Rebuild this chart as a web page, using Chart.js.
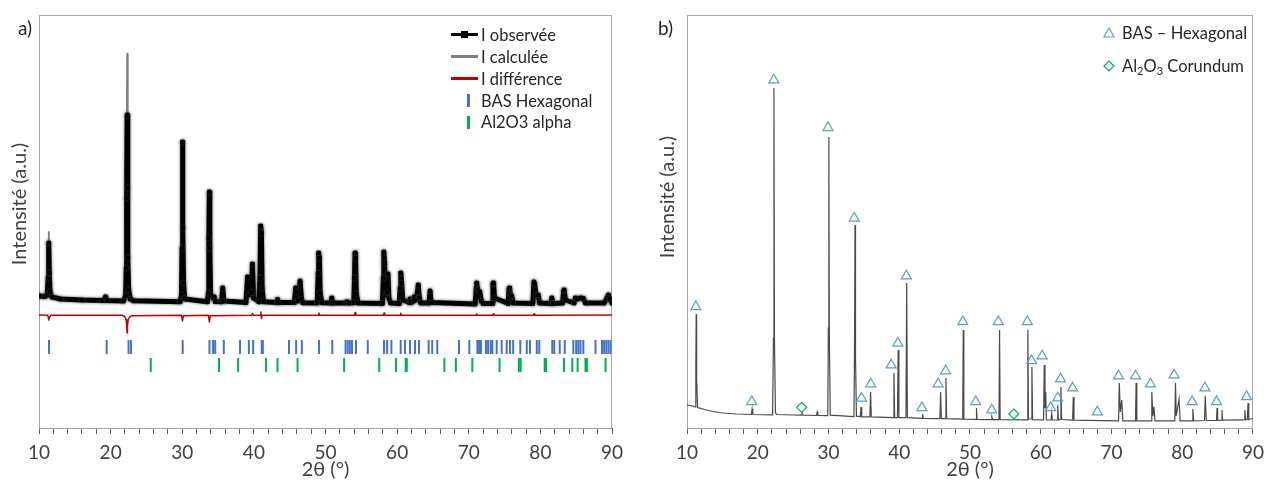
<!DOCTYPE html>
<html>
<head>
<meta charset="utf-8">
<script src="https://cdn.jsdelivr.net/npm/chart.js@4.4.1/dist/chart.umd.min.js"></script>
<style>
  body { margin: 0; background: #fff; font-family: Lato, sans-serif; color: #262626; }
  #wrap { position: relative; width: 1271px; height: 480px; overflow: hidden; }
  canvas { position: absolute; top: 0; }
  .panel { position: absolute; font-size: 19px; line-height: 20px; }
  .leg { position: absolute; font-size: 16.5px; line-height: 20px; white-space: nowrap; }
  .ico { position: absolute; }
  .ytitle { position: absolute; width: 200px; text-align: center; font-size: 20px; line-height: 24px;
            color: #404040; transform: rotate(-90deg); white-space: nowrap; }
  sub { font-size: 11px; vertical-align: -3px; line-height: 0; }
</style>
</head>
<body>
<div id="wrap">
  <canvas id="chartA" width="640" height="480" style="left:0"></canvas>
  <canvas id="chartB" width="631" height="480" style="left:640px"></canvas>

  <div class="panel" style="left:18px;top:18px">a)</div>
  <div class="panel" style="left:658px;top:18px">b)</div>
  <div class="ytitle" style="left:-82px;top:192px">Intensité (a.u.)</div>
  <div class="ytitle" style="left:566px;top:185px">Intensité (a.u.)</div>

  <!-- legend a -->
  <div class="ico" style="left:451px;top:33px;width:27px;height:3px;background:#000"></div>
  <div class="ico" style="left:461px;top:31px;width:7px;height:7px;background:#000"></div>
  <div class="leg" style="left:481px;top:25px">I observée</div>
  <div class="ico" style="left:451px;top:55px;width:27px;height:3px;background:#7f7f7f"></div>
  <div class="leg" style="left:481px;top:47px">I calculée</div>
  <div class="ico" style="left:451px;top:77px;width:27px;height:3px;background:#c00000"></div>
  <div class="leg" style="left:481px;top:69px">I différence</div>
  <div class="ico" style="left:467px;top:94px;width:3px;height:13px;background:#4472c4"></div>
  <div class="leg" style="left:481px;top:91px">BAS Hexagonal</div>
  <div class="ico" style="left:467px;top:116px;width:3px;height:13px;background:#00b050"></div>
  <div class="leg" style="left:481px;top:112px">Al2O3 alpha</div>

  <!-- legend b -->
  <svg class="ico" style="left:1103px;top:27px" width="12" height="11"><polygon points="6,1 11,10 1,10" fill="none" stroke="#5b9bd5" stroke-width="1.2"/></svg>
  <div class="leg" style="left:1122px;top:23px">BAS – Hexagonal</div>
  <svg class="ico" style="left:1103px;top:60px" width="12" height="12"><polygon points="6,1 11,6 6,11 1,6" fill="none" stroke="#00b050" stroke-width="1.2"/></svg>
  <div class="leg" style="left:1122px;top:56px">Al<sub>2</sub>O<sub>3</sub> Corundum</div>
</div>

<script>
// ---------- panel a : Rietveld refinement ----------
const obsAngle = [
  10, 10.8, 11.15, 11.28, 11.36, 11.44, 11.55, 11.8, 13, 16,
  19, 19.3, 19.5, 21.8, 22.1, 22.18, 22.24, 22.3, 22.36, 22.42, 22.52, 22.75, 23.2,
  29.7, 29.9, 29.97, 30.03, 30.1, 30.18, 30.35,
  33.5, 33.65, 33.72, 33.78, 33.85, 33.95, 34.3, 34.45, 34.6, 35.5, 35.65, 35.8,
  38.9, 39.12, 39.3, 39.65, 39.8, 39.95, 40.7, 40.85, 40.95, 41.05, 41.15, 41.35,
  43.2, 43.3, 43.4, 45.65, 45.85, 45.95, 46.2, 46.45, 46.65, 46.85,
  48.85, 48.98, 49.05, 49.15, 49.25, 49.5, 50.75, 50.88, 51.0, 52.8, 53.0, 53.3,
  53.95, 54.05, 54.12, 54.2, 54.3, 54.55,
  57.95, 58.08, 58.15, 58.25, 58.4, 58.6, 58.72, 58.85, 59.1,
  60.3, 60.42, 60.52, 60.62, 60.8, 61.7, 61.8, 61.95, 62.3, 62.4, 62.55, 62.85, 62.95, 63.1, 63.3,
  64.45, 64.6, 64.75,
  70.9, 71.05, 71.12, 71.25, 71.55, 71.75, 72.0, 73.25, 73.38, 73.45, 73.6,
  75.5, 75.62, 75.7, 75.85, 76.0, 76.2, 78.95, 79.1, 79.2, 79.4, 79.7, 79.9,
  81.45, 81.6, 81.75, 83.1, 83.25, 83.32, 83.5, 84.7, 84.9, 85.2, 85.6, 86.0, 86.3,
  88.9, 89.3, 89.5, 89.7, 90
];
const obsInt = [
  1320, 1315, 1330, 1500, 1850, 1550, 1360, 1310, 1290, 1280,
  1275, 1310, 1275, 1270, 1320, 1600, 2300, 3130, 2400, 1700, 1380, 1290, 1272,
  1262, 1330, 1800, 2860, 2000, 1450, 1290,
  1262, 1350, 1900, 2360, 1800, 1330, 1300, 1310, 1265, 1262, 1400, 1270,
  1255, 1510, 1330, 1350, 1640, 1300, 1262, 1500, 2020, 1950, 1400, 1262,
  1255, 1285, 1255, 1255, 1400, 1360, 1270, 1470, 1290, 1252,
  1250, 1550, 1750, 1700, 1350, 1252, 1250, 1300, 1250, 1250, 1262, 1250,
  1252, 1500, 1750, 1700, 1340, 1250,
  1245, 1500, 1760, 1650, 1330, 1350, 1540, 1300, 1250,
  1245, 1400, 1550, 1450, 1280, 1255, 1290, 1255, 1270, 1310, 1280, 1360, 1430, 1300, 1250,
  1250, 1370, 1255,
  1240, 1400, 1450, 1380, 1360, 1270, 1245, 1245, 1440, 1450, 1300,
  1245, 1390, 1400, 1320, 1320, 1250, 1245, 1460, 1440, 1330, 1330, 1250,
  1245, 1300, 1245, 1250, 1370, 1380, 1280, 1250, 1300, 1290, 1300, 1295, 1250,
  1250, 1300, 1330, 1290, 1250
];
const calcInt = [
  1320, 1315, 1330, 1500, 1960, 1550, 1360, 1310, 1290, 1280,
  1275, 1310, 1275, 1270, 1320, 1600, 2300, 3740, 2400, 1700, 1380, 1290, 1272,
  1262, 1330, 1800, 2860, 2000, 1450, 1290,
  1262, 1350, 1900, 2360, 1800, 1330, 1300, 1310, 1265, 1262, 1400, 1270,
  1255, 1510, 1330, 1350, 1640, 1300, 1262, 1500, 2020, 1950, 1400, 1262,
  1255, 1285, 1255, 1255, 1400, 1360, 1270, 1470, 1290, 1252,
  1250, 1550, 1750, 1700, 1350, 1252, 1250, 1300, 1250, 1250, 1262, 1250,
  1252, 1500, 1750, 1700, 1340, 1250,
  1245, 1500, 1760, 1650, 1330, 1350, 1540, 1300, 1250,
  1245, 1400, 1550, 1450, 1280, 1255, 1290, 1255, 1270, 1310, 1280, 1360, 1430, 1300, 1250,
  1250, 1370, 1255,
  1240, 1400, 1450, 1380, 1360, 1270, 1245, 1245, 1440, 1450, 1300,
  1245, 1390, 1400, 1320, 1320, 1250, 1245, 1460, 1440, 1330, 1330, 1250,
  1245, 1300, 1245, 1250, 1370, 1380, 1280, 1250, 1300, 1290, 1300, 1295, 1250,
  1250, 1300, 1330, 1290, 1250
];
const diffAngle = [
  10, 11.2, 11.3, 11.36, 11.45, 11.7,
  21.6, 21.95, 22.15, 22.25, 22.3, 22.35, 22.45, 22.65, 23.0,
  29.9, 30.03, 30.15, 33.65, 33.78, 33.9, 39.7, 39.8, 39.9,
  40.9, 40.98, 41.05, 41.15, 49.0, 49.08, 49.18, 54.05, 54.13, 54.22,
  58.1, 58.17, 58.27, 60.43, 60.5, 60.6, 71.05, 71.12, 71.2,
  73.35, 73.43, 73.52, 79.05, 79.12, 79.22, 90
];
const diffInt = [
  1130, 1128, 1105, 1080, 1110, 1127,
  1127, 1115, 1085, 1030, 950, 1020, 1080, 1110, 1123,
  1127, 1070, 1122, 1127, 1060, 1122, 1127, 1145, 1127,
  1127, 1160, 1095, 1127, 1127, 1150, 1127, 1127, 1155, 1127,
  1127, 1150, 1127, 1127, 1148, 1127, 1127, 1142, 1127,
  1127, 1142, 1127, 1127, 1142, 1127, 1130
];
const basHexTicks = [
  11.4, 19.45, 22.5, 22.85, 30.06, 33.8, 34.3, 34.6, 35.8, 38.07, 39.3, 39.9, 41.1, 41.25,
  44.9, 45.9, 46.7, 49.1, 50.95, 52.8, 53.1, 53.4, 53.7, 54.26, 55.9, 58.17, 58.6, 59.2,
  60.5, 61.1, 61.8, 62.5, 63.05, 64.4, 64.9, 65.6, 68.64, 70.08, 71.2, 71.45, 71.7,
  72.4, 72.7, 73.07, 73.3, 73.9, 74.6, 75.3, 75.76, 76.2, 77.2, 78.1, 78.55, 79.5, 79.85,
  81.66, 81.94, 82.7, 83.4, 84.6, 85.0, 85.3, 85.6, 86.0, 87.7, 88.6, 88.9, 89.2, 89.5, 89.8
];
const alphaTicks = [
  25.6, 35.13, 37.8, 41.7, 43.3, 46.1, 52.6, 57.5, 59.85, 61.2, 61.35, 66.6, 68.2,
  70.5, 74.3, 77.0, 77.25, 80.6, 80.8, 83.3, 84.46, 85.2, 86.3, 86.5, 89.1
];

// ---------- panel b : raw pattern ----------
const xrdAngle = [
  10, 10.8, 11.15, 11.25, 11.3, 11.36, 11.5, 13, 15, 17,
  19.1, 19.2, 19.3, 22.1, 22.22, 22.29, 22.36, 22.5, 22.7, 25, 26.2, 26.3, 26.4, 28.3, 28.4, 28.5,
  29.9, 29.98, 30.05, 30.12, 30.25, 33.6, 33.68, 33.75, 33.82, 33.95, 34.5, 34.6, 34.7, 35.85, 35.95, 36.05,
  39.15, 39.25, 39.35, 39.75, 39.85, 39.95, 40.95, 41.05, 41.15, 43.25, 43.3, 43.38,
  45.75, 45.85, 45.95, 46.5, 46.6, 46.7, 48.97, 49.05, 49.13, 50.85, 50.92, 51.0, 53.0, 53.1, 53.2,
  54.1, 54.18, 54.26, 58.1, 58.18, 58.27, 58.65, 58.75, 58.85, 60.4, 60.5, 60.6, 60.7, 60.8,
  61.45, 61.55, 61.65, 62.3, 62.4, 62.5, 62.75, 62.85, 62.95, 64.5, 64.6, 64.7,
  71.0, 71.1, 71.25, 71.45, 71.6, 73.4, 73.48, 73.58, 75.6, 75.7, 75.85, 76.0, 76.15,
  78.95, 79.05, 79.15, 79.55, 79.7, 81.4, 81.5, 81.6, 83.15, 83.25, 83.4,
  84.85, 84.92, 85.0, 85.55, 85.62, 85.7, 88.75, 88.85, 88.95, 89.2, 89.3, 89.4, 90
];
const xrdInt = [
  230, 220, 212, 600, 1140, 500, 205, 175, 150, 140,
  135, 190, 135, 132, 900, 3400, 900, 150, 135, 130, 128, 145, 128, 125, 160, 125,
  124, 1000, 2910, 900, 128, 114, 800, 2030, 700, 118, 114, 210, 112, 112, 360, 112,
  104, 550, 104, 104, 780, 104, 104, 1450, 104, 96, 140, 96,
  94, 360, 94, 94, 500, 94, 88, 980, 88, 86, 200, 86, 84, 110, 84,
  84, 980, 84, 82, 980, 90, 90, 610, 84, 82, 630, 200, 360, 82,
  80, 150, 80, 80, 230, 80, 85, 410, 85, 78, 310, 78,
  72, 450, 160, 280, 72, 72, 450, 72, 72, 360, 120, 213, 72,
  72, 450, 120, 290, 72, 72, 190, 72, 75, 320, 75,
  76, 200, 76, 78, 180, 78, 82, 180, 82, 85, 250, 85, 95
];
const basPeakAngle = [11.25, 19.15, 22.27, 29.93, 33.65, 34.67, 35.97, 38.85, 39.8, 41.0,
  43.2, 45.5, 46.56, 48.98, 50.8, 53.07, 54.0, 58.1, 58.7, 60.2,
  61.4, 62.4, 62.8, 64.5, 68.0, 71.0, 73.4, 75.5, 78.85, 81.4, 83.2, 84.85, 89.1];
const basPeakInt = [1213, 263, 3480, 3003, 2097, 297, 440, 630, 847, 1520,
  203, 440, 570, 1063, 263, 180, 1063, 1063, 673, 720,
  203, 300, 490, 400, 160, 520, 520, 440, 530, 263, 400, 263, 313];
const corPeakAngle = [26.2, 56.2];
const corPeakInt = [207, 140];

const xTickLabels = [10, 20, 30, 40, 50, 60, 70, 80, 90];

// ---------- shared bits ----------
const TEXT = '#404040';
const AXIS = '#595959';
Chart.defaults.font.family = 'Lato';
Chart.defaults.color = TEXT;

const BAS_ROW = 810;
const ALPHA_ROW = 630;

const xy = (xs, ys) => xs.map((x, i) => ({ x: x, y: ys[i] }));
const row = (xs, y) => xs.map(x => ({ x: x, y: y }));

const frame = {
  id: 'frame',
  beforeDatasetsDraw(chart) {
    const { ctx, chartArea: a } = chart;
    ctx.save();
    ctx.strokeStyle = '#a6a6a6';
    ctx.lineWidth = 1;
    ctx.strokeRect(a.left + 0.5, a.top + 0.5, a.right - a.left - 1, a.bottom - a.top);
    ctx.restore();
  }
};

// grey rim round the observed curve, as in the original export
const halo = {
  id: 'halo',
  beforeDatasetDraw(chart, args) {
    if (args.index !== 0) return;
    const ctx = chart.ctx;
    ctx.save();
    ctx.shadowColor = 'rgba(80,80,80,0.9)';
    ctx.shadowBlur = 3;
  },
  afterDatasetDraw(chart, args) {
    if (args.index === 0) chart.ctx.restore();
  }
};

function scales(yWidth) {
  return {
    x: {
      type: 'linear', min: 10, max: 90,
      afterFit: s => { s.height = 52; },
      border: { display: true, color: AXIS, width: 1 },
      grid: { display: true, drawOnChartArea: false, drawTicks: true, tickLength: 6, color: AXIS },
      ticks: {
        stepSize: 2, autoSkip: false, maxRotation: 0, padding: 7,
        font: { size: 19 }, color: TEXT,
        callback: v => xTickLabels.includes(v) ? String(v) : ''
      },
      title: { display: true, text: '2θ (°)', font: { size: 20 }, color: TEXT,
        padding: { top: 0, bottom: -2 } }
    },
    y: {
      type: 'linear', min: 0, max: 4130,
      afterFit: s => { s.width = yWidth; },
      ticks: { display: false },
      grid: { display: false },
      border: { display: false }
    }
  };
}

const common = {
  responsive: false,
  animation: false,
  plugins: { legend: { display: false }, tooltip: { enabled: false } }
};

new Chart(document.getElementById('chartA'), {
  type: 'scatter',
  data: {
    datasets: [
      {
        label: 'I observée',
        data: xy(obsAngle, obsInt),
        showLine: true,
        borderColor: '#000',
        borderWidth: 5,
        borderJoinStyle: 'round',
        borderCapStyle: 'round',
        pointStyle: 'rect',
        pointRadius: 3,
        pointBackgroundColor: '#000',
        pointBorderColor: '#000',
        pointBorderWidth: 0
      },
      {
        label: 'I calculée',
        data: xy(obsAngle, calcInt),
        showLine: true,
        borderColor: '#7f7f7f',
        borderWidth: 1.8,
        borderJoinStyle: 'round',
        pointRadius: 0
      },
      {
        label: 'I différence',
        data: xy(diffAngle, diffInt),
        showLine: true,
        borderColor: '#c00000',
        borderWidth: 1.5,
        borderJoinStyle: 'round',
        pointRadius: 0
      },
      {
        label: 'BAS Hexagonal',
        data: row(basHexTicks, BAS_ROW),
        pointStyle: 'line',
        rotation: 90,
        pointRadius: 7,
        pointBorderWidth: 2,
        pointBorderColor: '#4472c4'
      },
      {
        label: 'Al2O3 alpha',
        data: row(alphaTicks, ALPHA_ROW),
        pointStyle: 'line',
        rotation: 90,
        pointRadius: 7,
        pointBorderWidth: 2,
        pointBorderColor: '#00b050'
      }
    ]
  },
  options: Object.assign({}, common, {
    layout: { padding: { top: 15, right: 28, bottom: 0, left: 0 } },
    scales: scales(39)
  }),
  plugins: [frame, halo]
});

new Chart(document.getElementById('chartB'), {
  type: 'scatter',
  data: {
    datasets: [
      {
        label: 'BAS – Hexagonal',
        data: xy(basPeakAngle, basPeakInt),
        pointStyle: 'triangle',
        pointRadius: 5.8,
        pointBorderWidth: 1.2,
        pointBorderColor: '#5b9bd5',
        pointBackgroundColor: 'rgba(0,0,0,0)'
      },
      {
        label: 'Al2O3 Corundum',
        data: xy(corPeakAngle, corPeakInt),
        pointStyle: 'rectRot',
        pointRadius: 5,
        pointBorderWidth: 1.2,
        pointBorderColor: '#00b050',
        pointBackgroundColor: 'rgba(0,0,0,0)'
      },
      {
        label: 'pattern',
        data: xy(xrdAngle, xrdInt),
        showLine: true,
        borderColor: '#4a4a4a',
        borderWidth: 1.2,
        pointRadius: 0
      }
    ]
  },
  options: Object.assign({}, common, {
    layout: { padding: { top: 15, right: 10, bottom: 0, left: 0 } },
    scales: scales(47)
  }),
  plugins: [frame]
});
</script>
</body>
</html>
